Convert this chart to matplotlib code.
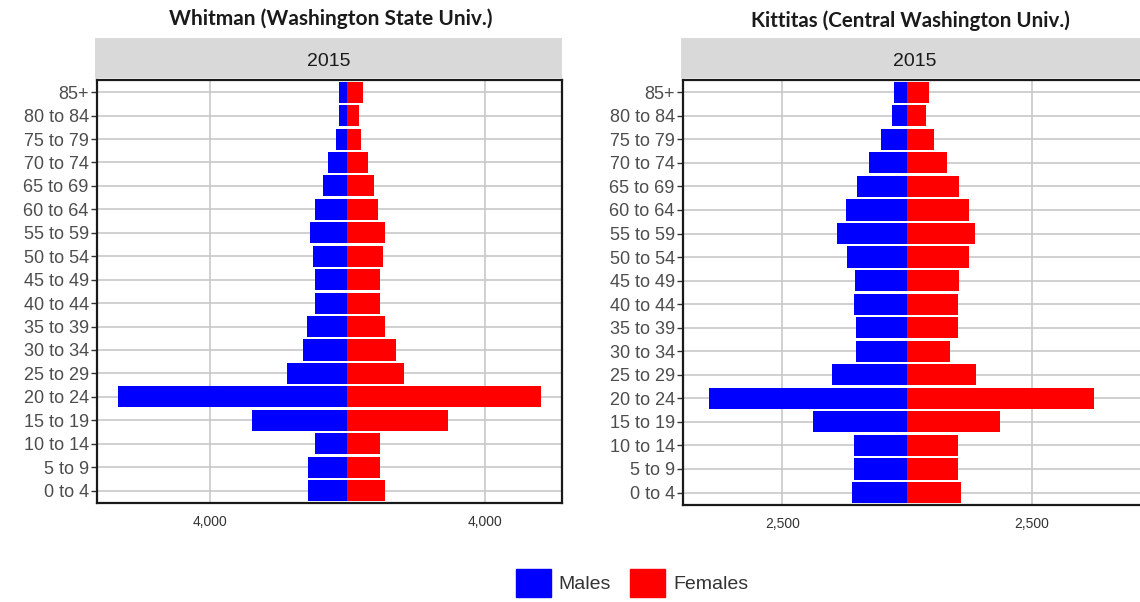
import matplotlib
matplotlib.use("Agg")
import matplotlib.pyplot as plt
from matplotlib.patches import Patch, Rectangle
from matplotlib.ticker import FuncFormatter

AGE_GROUPS = [
    "0 to 4", "5 to 9", "10 to 14", "15 to 19", "20 to 24", "25 to 29",
    "30 to 34", "35 to 39", "40 to 44", "45 to 49", "50 to 54", "55 to 59",
    "60 to 64", "65 to 69", "70 to 74", "75 to 79", "80 to 84", "85+",
]

# Whitman County (Washington State Univ.), 2015
whitman_males = [1125, 1125, 930, 2760, 6660, 1745, 1280, 1160, 930,
                 940, 990, 1070, 930, 710, 550, 320, 240, 240]
whitman_females = [1105, 950, 950, 2940, 5640, 1670, 1415, 1105, 950,
                   950, 1050, 1115, 910, 795, 610, 420, 340, 460]

# Kittitas County (Central Washington Univ.), 2015
kittitas_males = [1095, 1069, 1069, 1877, 3970, 1503, 1015, 1028, 1055,
                  1043, 1197, 1397, 1230, 1010, 768, 528, 300, 267]
kittitas_females = [1083, 1030, 1030, 1858, 3743, 1383, 870, 1030, 1030,
                    1050, 1250, 1363, 1250, 1050, 796, 535, 375, 447]

YEAR = "2015"
MALE_COLOR = "#0000FF"
FEMALE_COLOR = "#FF0000"
GRID_COLOR = "#C8C8C8"
TEXT_COLOR = "#4D4D4D"

plt.rcParams["font.family"] = ["Liberation Sans", "DejaVu Sans"]


def draw_pyramid(fig, rect, strip_x, males, females, ticks, xlim):
    ax = fig.add_axes(rect)
    y = range(len(AGE_GROUPS))

    ax.barh(y, [-m for m in males], height=0.9, color=MALE_COLOR, zorder=3)
    ax.barh(y, females, height=0.9, color=FEMALE_COLOR, zorder=3)

    ax.set_xlim(*xlim)
    ax.set_ylim(-0.53, len(AGE_GROUPS) - 0.48)
    ax.set_yticks(list(y))
    ax.set_yticklabels(AGE_GROUPS)
    ax.set_xticks(ticks)
    ax.xaxis.set_major_formatter(FuncFormatter(lambda v, _: f"{abs(int(v)):,}"))

    ax.grid(True, color=GRID_COLOR, linewidth=1.2, zorder=0)
    ax.set_axisbelow(True)
    ax.tick_params(axis="y", length=4, width=1, color="#333333",
                   labelsize=13, labelcolor=TEXT_COLOR, pad=2)
    ax.tick_params(axis="x", length=0, labelsize=10,
                   labelcolor="#333333", pad=9)
    for spine in ax.spines.values():
        spine.set_linewidth(1.6)
        spine.set_color("#1A1A1A")

    # facet strip above the panel
    x0, y0, w, h = rect
    strip_h = 40 / 602
    top = y0 + h + 2 / 602
    fig.patches.append(Rectangle((x0 - 2 / 1140, top), w + 2 / 1140, strip_h,
                                 transform=fig.transFigure,
                                 facecolor="#D9D9D9", edgecolor="none"))
    fig.text(strip_x, top + strip_h / 2 - 3 / 602, YEAR,
             ha="center", va="center", fontsize=14, color="#1A1A1A")
    return ax


def main() -> None:
    fig = plt.figure(figsize=(11.4, 6.02), dpi=100)

    draw_pyramid(fig, [97 / 1140, 1 - 503 / 602, 465 / 1140, 423 / 602],
                 329 / 1140, whitman_males, whitman_females,
                 [-4000, 4000], (-7275, 6255))
    draw_pyramid(fig, [683 / 1140, 1 - 505 / 602, 467 / 1140, 425 / 602],
                 915 / 1140, kittitas_males, kittitas_females,
                 [-2500, 2500], (-4490, 4870))

    fig.text(331 / 1140, 1 - 19 / 602, "Whitman (Washington State Univ.)",
             ha="center", va="center", fontsize=15, fontweight="bold",
             family=["Lato", "DejaVu Sans"], color="#1A1A1A")
    fig.text(910 / 1140, 1 - 21 / 602, "Kittitas (Central Washington Univ.)",
             ha="center", va="center", fontsize=14.8, fontweight="bold",
             family=["Lato", "DejaVu Sans"], color="#1A1A1A")

    handles = [Patch(color=MALE_COLOR, label="Males"),
               Patch(color=FEMALE_COLOR, label="Females")]
    fig.legend(handles=handles, loc="center", bbox_to_anchor=(632 / 1140, 1 - 583 / 602),
               ncol=2, frameon=False, fontsize=14, handlelength=1.8,
               handleheight=1.8, handletextpad=0.4, columnspacing=1.0,
               labelcolor="#333333")

    fig.savefig("out.png", dpi=100)


if __name__ == "__main__":
    main()
